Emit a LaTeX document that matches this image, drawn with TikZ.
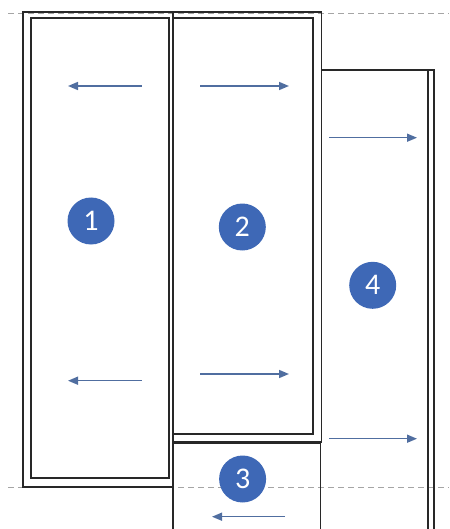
\documentclass[tikz,border=0pt]{standalone}
\usepackage{fontspec}
\setmainfont{Carlito}
\usetikzlibrary{arrows.meta}
\definecolor{wall}{RGB}{40,40,40}
\definecolor{flow}{RGB}{80,110,160}
\definecolor{badge}{RGB}{62,104,182}
\definecolor{guide}{RGB}{165,165,165}
\tikzset{
  wallline/.style={draw=wall,line width=1.8pt,line join=miter},
  guideline/.style={draw=guide,line width=1pt,dash pattern=on 6pt off 4pt},
  flowarrow/.style={draw=flow,line width=1.5pt,-{Triangle[length=10pt,width=8pt]}},
  numbadge/.style={circle,fill=badge,text=white,minimum size=47pt,inner sep=0pt,font=\fontsize{30}{30}\selectfont}
}
\begin{document}
\begin{tikzpicture}[x=1pt,y=-1pt]
\useasboundingbox (0,0) rectangle (449,529);
% guide lines
\draw[guideline] (8,14) -- (449,14);
\draw[guideline] (8,487) -- (449,487);
% outer frame of 1 and 2
\draw[wallline] (172,487) -- (23,487) -- (23,12) -- (321.5,12) -- (321.5,441.7) -- (172,441.7);
% separator / left of 2 and 3
\draw[wallline] (172.7,12) -- (172.7,529);
% inner of 1
\draw[wallline] (30.7,18) rectangle (169.3,478.3);
% inner of 2
\draw[wallline] (172.7,18) -- (313.3,18) -- (313.3,434) -- (172.7,434);
% box 3
\draw[wallline] (172.7,443.5) -- (320.5,443.5) -- (320.5,529);
% box 4
\draw[wallline] (321.5,70) -- (434,70) -- (434,529);
\draw[wallline] (428,71) -- (428,529);
% arrows
\coordinate (a1s) at (141.7,86); \coordinate (a1e) at (68,86);
\coordinate (b1s) at (141.7,380.7); \coordinate (b1e) at (68,380.7);
\coordinate (a2s) at (200,86); \coordinate (a2e) at (289,86);
\coordinate (b2s) at (200,374); \coordinate (b2e) at (289,374);
\coordinate (a4s) at (329,137.7); \coordinate (a4e) at (417,137.7);
\coordinate (b4s) at (329,438.7); \coordinate (b4e) at (417,438.7);
\coordinate (a3s) at (285,516.7); \coordinate (a3e) at (212,516.7);
\draw[flowarrow] (a1s) -- (a1e);
\draw[flowarrow] (b1s) -- (b1e);
\draw[flowarrow] (a2s) -- (a2e);
\draw[flowarrow] (b2s) -- (b2e);
\draw[flowarrow] (a4s) -- (a4e);
\draw[flowarrow] (b4s) -- (b4e);
\draw[flowarrow] (a3s) -- (a3e);
% badges
\node[numbadge] (n1) at (91,221) {1};
\node[numbadge] (n2) at (242.3,227) {2};
\node[numbadge] (n4) at (372.7,285.3) {4};
\node[numbadge] (n3) at (242.6,479) {3};
\end{tikzpicture}
\end{document}
